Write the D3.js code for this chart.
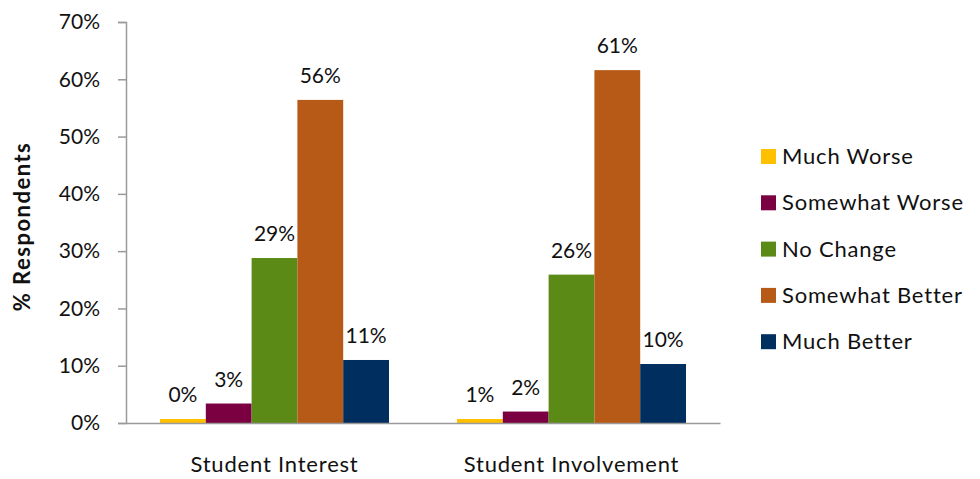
<!DOCTYPE html>
<html>
<head>
<meta charset="utf-8">
<script src="https://cdn.jsdelivr.net/npm/d3@7"></script>
<style>
  body { margin: 0; background: #fff; }
  svg text { font-family: "Lato", "Open Sans", sans-serif; fill: #111; }
</style>
</head>
<body>
<svg id="chart" width="980" height="479"></svg>
<script>
// categories and series
const groups = ["Student Interest", "Student Involvement"];
const series = ["Much Worse", "Somewhat Worse", "No Change", "Somewhat Better", "Much Better"];
const colors = ["#FFC000", "#7B0041", "#5B8A16", "#B85A17", "#002F5F"];
const interestValues = [0.7, 3.4, 28.8, 56.4, 11.0];
const involvementValues = [0.7, 2.0, 25.9, 61.6, 10.3];
const valueLabels = [
	["0%", "3%", "29%", "56%", "11%"],
	["1%", "2%", "26%", "61%", "10%"],
];
const yTicks = [0, 10, 20, 30, 40, 50, 60, 70];

const svg = d3.select("#chart");
const margin = { top: 22, left: 126, bottom: 56 };
const plotRight = 720;
const height = +svg.attr("height");
const zeroY = height - margin.bottom;

const x0 = d3
	.scaleBand()
	.domain(groups)
	.range([margin.left, plotRight])
	.paddingInner(0.229)
	.paddingOuter(0.1145);

const x1 = d3.scaleBand().domain(series).range([0, x0.bandwidth()]);

const y = d3.scaleLinear().domain([0, 70]).range([zeroY, margin.top]);

const color = d3.scaleOrdinal().domain(series).range(colors);

// y axis
const yAxis = svg
	.append("g")
	.attr("transform", `translate(${margin.left},0)`)
	.call(
		d3
			.axisLeft(y)
			.tickValues(yTicks)
			.tickFormat((d) => d + "%")
			.tickSize(8)
			.tickPadding(18)
	);
yAxis.select(".domain").attr("stroke", "#9a9a9a").attr("stroke-width", 1.5);
yAxis.selectAll(".tick line").attr("stroke", "#9a9a9a").attr("stroke-width", 1.5);
yAxis.selectAll(".tick text").attr("font-size", 21).style("fill", "#111");

// bars
const rows = [interestValues, involvementValues];
groups.forEach((g, gi) => {
	const grp = svg.append("g").attr("transform", `translate(${x0(g)},0)`);
	const data = series.map((s, i) => ({ key: s, value: rows[gi][i], label: valueLabels[gi][i] }));

	grp
		.selectAll("rect")
		.data(data)
		.join("rect")
		.attr("x", (d) => x1(d.key))
		.attr("y", (d) => y(d.value))
		.attr("width", x1.bandwidth())
		.attr("height", (d) => zeroY - y(d.value))
		.attr("fill", (d) => color(d.key));

	grp
		.selectAll("text.val")
		.data(data)
		.join("text")
		.attr("class", "val")
		.attr("x", (d) => x1(d.key) + x1.bandwidth() / 2)
		.attr("y", (d) => y(d.value) - 17)
		.attr("text-anchor", "middle")
		.attr("font-size", 21)
		.text((d) => d.label);
});

// x axis baseline
const xAxis = svg
	.append("g")
	.attr("transform", `translate(0,${zeroY})`)
	.call(d3.axisBottom(x0).tickSize(0).tickPadding(33));
xAxis.select(".domain").attr("stroke", "#9a9a9a").attr("stroke-width", 1.5);
xAxis
	.selectAll(".tick text")
	.attr("font-size", 22)
	.attr("letter-spacing", 0.8)
	.style("fill", "#111");

// y axis title
svg
	.append("text")
	.attr("transform", `translate(30,${(margin.top + zeroY) / 2 + 4}) rotate(-90)`)
	.attr("text-anchor", "middle")
	.attr("font-size", 22)
	.attr("font-weight", "bold")
	.attr("letter-spacing", 1.5)
	.text("% Respondents");

// legend
const legend = svg.append("g").attr("transform", "translate(761,149)");
series.forEach((s, i) => {
	const row = legend.append("g").attr("transform", `translate(0,${i * 46.3})`);
	row.append("rect").attr("width", 15).attr("height", 15).attr("fill", colors[i]);
	row
		.append("text")
		.attr("x", 21)
		.attr("y", 15)
		.attr("font-size", 22)
		.attr("letter-spacing", 0.8)
		.text(s);
});
</script>
</body>
</html>
